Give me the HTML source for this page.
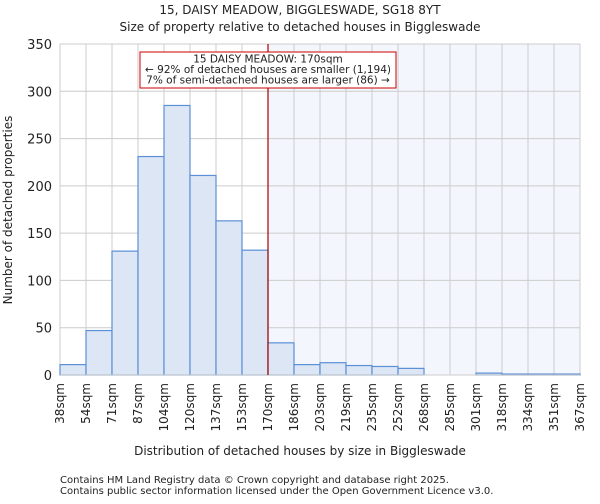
<!DOCTYPE html>
<html><head><meta charset="utf-8"><style>
body{margin:0;background:#fff;font-family:"DejaVu Sans","Liberation Sans",sans-serif}
svg text{font-family:"DejaVu Sans","Liberation Sans",sans-serif;fill:#222}
</style></head><body>
<svg id="chart" width="600" height="500">
<text x="300" y="14" text-anchor="middle" font-size="12">15, DAISY MEADOW, BIGGLESWADE, SG18 8YT</text>
<text x="300" y="31" text-anchor="middle" font-size="12">Size of property relative to detached houses in Biggleswade</text>
<g id="plot"></g>
<text x="300" y="455" text-anchor="middle" font-size="12">Distribution of detached houses by size in Biggleswade</text>
<text transform="translate(12,210) rotate(-90)" text-anchor="middle" font-size="12">Number of detached properties</text>
<text x="60" y="483" font-size="10" fill="#444">Contains HM Land Registry data © Crown copyright and database right 2025.</text>
<text x="60" y="494" font-size="10" fill="#444">Contains public sector information licensed under the Open Government Licence v3.0.</text>
</svg>
<script>
const labels=["38sqm","54sqm","71sqm","87sqm","104sqm","120sqm","137sqm","153sqm","170sqm","186sqm","203sqm","219sqm","235sqm","252sqm","268sqm","285sqm","301sqm","318sqm","334sqm","351sqm","367sqm"];
const counts=[11,47,131,231,285,211,163,132,34,11,13,10,9,7,0,0,2,1,1,1];
const yTicks=[0,50,100,150,200,250,300,350];
const propertyBin=8;
const NS="http://www.w3.org/2000/svg";
const g=document.getElementById("plot");
const x0=60,x1=580,yTop=44,yBot=375,yMax=350;
const bw=(x1-x0)/counts.length;
const X=i=>x0+i*bw;
const Y=v=>yBot-v/yMax*(yBot-yTop);
function mk(t,a){const e=document.createElementNS(NS,t);for(const k in a)e.setAttribute(k,a[k]);g.appendChild(e);return e;}
let r=mk("rect",{x:X(propertyBin),y:yTop,width:x1-X(propertyBin),height:yBot-yTop,fill:"#f3f6fd"});


yTicks.forEach(v=>{let l=mk("line",{x1:x0,x2:x1,y1:Y(v),y2:Y(v),stroke:"#ccc"});


let t=mk("text",{x:x0-8,y:Y(v)+5,"text-anchor":"end","font-size":"13"});t.textContent=v;

});
labels.forEach((s,i)=>{let l=mk("line",{x1:X(i),x2:X(i),y1:yTop,y2:yBot,stroke:"#ccc"});


let t=mk("text",{transform:`translate(${X(i)+4},${yBot+8}) rotate(-90)`,"text-anchor":"end","font-size":"12"});t.textContent=s;

});
counts.forEach((v,i)=>{let b=mk("rect",{x:X(i),y:Y(v),width:bw,height:yBot-Y(v),fill:"#dce6f4",stroke:"#5b8fd6","stroke-width":"1.2"});

});
let ax=mk("line",{x1:x0,x2:x1,y1:yBot,y2:yBot,stroke:"#ccc"});


let m=mk("line",{x1:X(propertyBin),x2:X(propertyBin),y1:yTop,y2:yBot,stroke:"#a00","stroke-width":"1.2"});


let box=mk("rect",{x:140,y:52,width:256,height:36,fill:"#fff",stroke:"#c00"});


["15 DAISY MEADOW: 170sqm","← 92% of detached houses are smaller (1,194)","7% of semi-detached houses are larger (86) →"].forEach((s,i)=>{let t=mk("text",{x:268,y:62.5+i*10.5,"text-anchor":"middle","font-size":"10.5"});t.textContent=s;

});
</script>
</body></html>
